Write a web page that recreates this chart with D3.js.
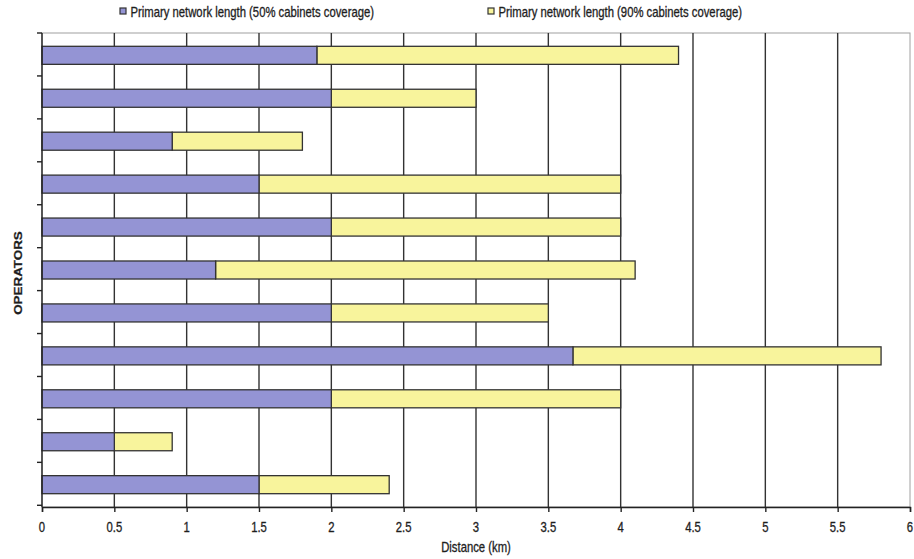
<!DOCTYPE html>
<html>
<head>
<meta charset="utf-8">
<script src="https://cdn.jsdelivr.net/npm/d3@7"></script>
<style>
  body { margin: 0; background: #fff; }
  svg { display: block; font-family: "Liberation Sans", Arial, sans-serif; }
</style>
</head>
<body>
<svg id="chart" width="914" height="559"></svg>
<script>
// Operators, top to bottom
const operators = ["Op 1", "Op 2", "Op 3", "Op 4", "Op 5", "Op 6", "Op 7", "Op 8", "Op 9", "Op 10", "Op 11"];
// Primary network length (km) for 50% and 90% cabinet coverage
const len50 = [1.9, 2.0, 0.9, 1.5, 2.0, 1.2, 2.0, 3.67, 2.0, 0.5, 1.5];
const len90 = [4.4, 3.0, 1.8, 4.0, 4.0, 4.1, 3.5, 5.8, 4.0, 0.9, 2.4];
const xTicks = [0, 0.5, 1, 1.5, 2, 2.5, 3, 3.5, 4, 4.5, 5, 5.5, 6];
const seriesNames = ["Primary network length (50% cabinets coverage)", "Primary network length (90% cabinets coverage)"];
const colors = ["#9494d4", "#f8f49c"];

const svg = d3.select("#chart");
const plotL = 42, plotR = 910, plotT = 33, plotB = 507;
const textStretch = 1.22; // tall, narrow lettering

const x = d3.scaleLinear().domain([0, 6]).range([plotL, plotR]);
const y = d3.scaleBand().domain(operators).range([plotT, plotB])
  .paddingInner(0.58).paddingOuter(0.31);
const step = y.step();

// text placed at (tx, ty) with vertical stretch
function label(g, tx, ty, str, opts = {}) {
  return g.append("text")
    .attr("transform", `translate(${tx},${ty}) scale(1,${textStretch})` + (opts.rotate ? ` rotate(${opts.rotate})` : ""))
    .attr("font-size", opts.size || 11.3)
    .attr("font-weight", opts.weight || "normal")
    .attr("text-anchor", opts.anchor || "start")
    .attr("fill", "#1e1e1e")
    .attr("stroke", "#1e1e1e").attr("stroke-width", 0.25)
    .text(str);
}

// plot area border
svg.append("rect").attr("x", plotL).attr("y", plotT)
  .attr("width", plotR - plotL).attr("height", plotB - plotT)
  .attr("fill", "none").attr("stroke", "#a0a0a0").attr("stroke-width", 1);

// vertical gridlines
svg.append("g").selectAll("line")
  .data(xTicks.filter(t => t > 0 && t < 6))
  .join("line")
  .attr("x1", d => x(d)).attr("x2", d => x(d))
  .attr("y1", plotT).attr("y2", plotB)
  .attr("stroke", "#333").attr("stroke-width", 1.4);

// bars: 50% segment, then the extension to 90%
const rows = operators.map((op, i) => ({ op, a: len50[i], b: len90[i] }));
const bars = svg.append("g");
bars.selectAll("rect.s90").data(rows).join("rect")
  .attr("class", "s90")
  .attr("x", d => x(d.a)).attr("y", d => y(d.op))
  .attr("width", d => x(d.b) - x(d.a)).attr("height", y.bandwidth())
  .attr("fill", colors[1]).attr("stroke", "#333").attr("stroke-width", 1.3);
bars.selectAll("rect.s50").data(rows).join("rect")
  .attr("class", "s50")
  .attr("x", x(0)).attr("y", d => y(d.op))
  .attr("width", d => x(d.a) - x(0)).attr("height", y.bandwidth())
  .attr("fill", colors[0]).attr("stroke", "#333").attr("stroke-width", 1.3);

// x axis
const xAxis = d3.axisBottom(x).tickValues(xTicks).tickSize(5).tickFormat("");
const gx = svg.append("g").attr("transform", `translate(0,${plotB})`).call(xAxis);
gx.select(".domain").attr("stroke", "#222").attr("stroke-width", 1.4);
gx.selectAll(".tick line").attr("stroke", "#222").attr("stroke-width", 1.4);
const gxl = svg.append("g");
xTicks.forEach(t => label(gxl, x(t), plotB + 25, String(t), { anchor: "middle" }));

// y axis: line with ticks at category boundaries
const gy = svg.append("g");
gy.append("line").attr("x1", plotL).attr("x2", plotL).attr("y1", plotT).attr("y2", plotB)
  .attr("stroke", "#222").attr("stroke-width", 1.4);
gy.selectAll("line.tk").data(d3.range(operators.length + 1)).join("line")
  .attr("class", "tk")
  .attr("x1", plotL - 5).attr("x2", plotL)
  .attr("y1", i => plotT + i * step).attr("y2", i => plotT + i * step)
  .attr("stroke", "#222").attr("stroke-width", 1.4);

// axis titles
label(svg, (plotL + plotR) / 2, 552, "Distance (km)", { anchor: "middle" });
label(svg, 22, (plotT + plotB) / 2 + 3, "OPERATORS", { anchor: "middle", weight: "bold", rotate: -90, size: 11 });

// legend
const legendX = [120, 488];
const lg = svg.append("g");
seriesNames.forEach((name, i) => {
  lg.append("rect").attr("x", legendX[i]).attr("y", 8).attr("width", 6).attr("height", 6)
    .attr("fill", colors[i]).attr("stroke", "#333").attr("stroke-width", 1.2);
  label(lg, legendX[i] + 10.5, 17, name);
});
</script>
</body>
</html>
